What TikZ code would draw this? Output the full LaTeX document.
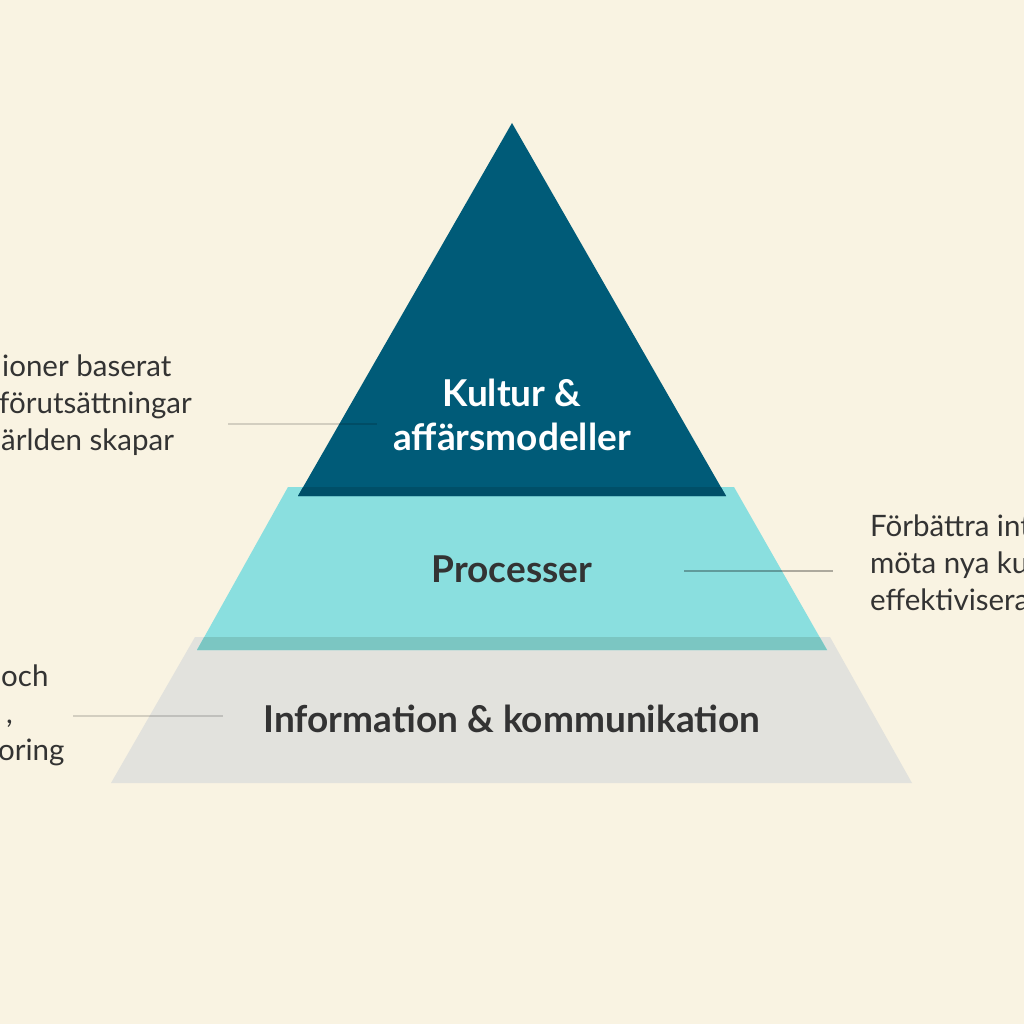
\documentclass[tikz,border=0pt]{standalone}
\usepackage{fontspec}
\setmainfont{Lato}
\definecolor{bg}{HTML}{F9F3E2}
\definecolor{darkblue}{HTML}{005B78}
\definecolor{darkblueov}{HTML}{004F68}
\definecolor{teal}{HTML}{8ADFDF}
\definecolor{tealov}{HTML}{7BC6C2}
\definecolor{lightgray}{HTML}{E2E2DD}
\definecolor{txt}{HTML}{333333}
\tikzset{
  label/.style={font=\fontsize{37}{44}\selectfont\bfseries, text=txt, inner sep=0pt, anchor=base},
  side/.style={font=\fontsize{29.5}{37}\selectfont, text=txt, inner sep=0pt, anchor=base west},
  conn/.style={line width=2pt, draw=black, draw opacity=0.15},
  connd/.style={line width=2pt, draw=black, draw opacity=0.3},
}
\begin{document}
\begin{tikzpicture}[x=1pt,y=-1pt]
\useasboundingbox (0,0) rectangle (1024,1024);
\fill[bg] (0,0) rectangle (1024,1024);
\begin{scope}
\clip (0,0) rectangle (1024,1024);
% gray layer
\fill[lightgray] (195,637) -- (830,637) -- (912,783) -- (111,783) -- cycle;
% teal layer
\fill[teal] (288,487) -- (734,487) -- (827,650) -- (197,650) -- cycle;
\begin{scope}
\clip (0,637) rectangle (1024,650);
\fill[tealov] (288,487) -- (734,487) -- (827,650) -- (197,650) -- cycle;
\end{scope}
% dark triangle
\fill[darkblue] (512,123) -- (726,496) -- (298,496) -- cycle;
\begin{scope}
\clip (0,487) rectangle (1024,496);
\fill[darkblueov] (512,123) -- (726,496) -- (298,496) -- cycle;
\end{scope}
% labels
\node[label, text=white] (k1) at (512,406) {Kultur \&};
\node[label, text=white] (k2) at (512,450) {affärsmodeller};
\node[label] (proc) at (512,582) {Processer};
\node[label] (info) at (512,732) {Information \& kommunikation};
% connectors
\coordinate (c1a) at (228,424); \coordinate (c1b) at (377,424);
\coordinate (c2a) at (684,571); \coordinate (c2b) at (833,571);
\coordinate (c3a) at (73,716);  \coordinate (c3b) at (223,716);
\draw[conn] (c1a) -- (c1b);
\draw[connd] (c2a) -- (c2b);
\draw[conn] (c3a) -- (c3b);
% side texts
\node[side] (t1) at (2,376) {ioner baserat};
\node[side] (t2) at (-1,413) {förutsättningar};
\node[side] (t3) at (1,450) {ärlden skapar};
\node[side] (r1) at (870,536) {Förbättra int};
\node[side] (r2) at (870,573) {möta nya ku};
\node[side] (r3) at (870,610) {effektivisera};
\node[side] (b1) at (1,686) {och};
\node[side] (b2) at (6,723) {,};
\node[side] (b3) at (-2,760) {oring};
\end{scope}
\end{tikzpicture}
\end{document}
